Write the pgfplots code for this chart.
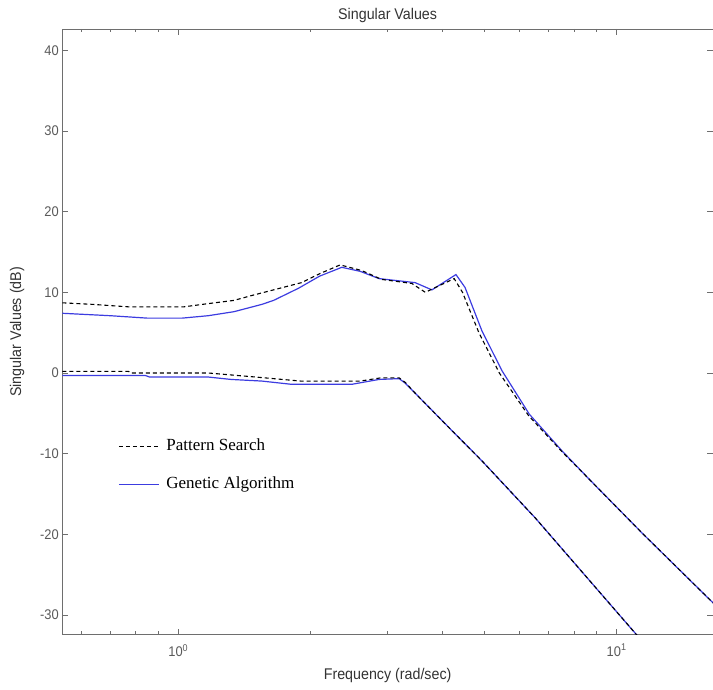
\documentclass[border=0pt]{standalone}
\usepackage{fontspec}
\setmainfont{Liberation Sans}[FakeStretch=0.92]
\newfontfamily\legfont{Liberation Serif}
\usepackage{pgfplots}
\usepackage{pgfplotstable}
\pgfplotsset{compat=1.18}
\definecolor{gablue}{HTML}{3C3CE0}
\definecolor{framegray}{HTML}{6E6E6E}
\definecolor{ticktxt}{HTML}{5A5A5A}
\definecolor{labeltxt}{HTML}{333333}

% frequency (rad/s) vs singular value (dB)
\pgfplotstableread{
f db
0.544 7.4
0.70 7.1
0.85 6.8
1.02 6.8
1.17 7.1
1.34 7.6
1.55 8.5
1.65 9.0
1.88 10.5
2.10 12.0
2.36 13.1
2.60 12.6
2.87 11.7
3.47 11.2
3.79 10.3
4.30 12.2
4.51 10.6
4.93 5.2
5.48 0.25
6.32 -5.1
7.52 -9.7
8.67 -13.2
11.46 -19.9
16.6 -28.5
}\gaup
\pgfplotstableread{
f db
0.544 -0.3
0.84 -0.3
0.86 -0.5
1.17 -0.5
1.32 -0.8
1.55 -1.0
1.81 -1.4
2.49 -1.4
2.87 -0.8
3.19 -0.7
3.30 -1.3
3.47 -2.5
4.15 -6.8
4.93 -10.9
6.53 -18.0
11.5 -33.4
}\galow
\pgfplotstableread{
f db
0.544 8.7
0.64 8.5
0.77 8.2
1.03 8.2
1.17 8.6
1.34 9.0
1.47 9.6
1.91 11.2
2.10 12.3
2.34 13.4
2.62 12.7
2.91 11.6
3.41 11.1
3.66 10.0
4.26 11.7
4.45 10.0
4.85 5.0
5.40 0.0
6.30 -5.3
7.52 -9.8
8.67 -13.2
11.46 -19.9
16.6 -28.5
}\psup
\pgfplotstableread{
f db
0.544 0.2
0.77 0.2
0.78 0.0
1.17 0.0
1.50 -0.5
1.90 -1.0
2.60 -1.0
2.90 -0.6
3.19 -0.6
3.30 -1.2
3.47 -2.5
4.15 -6.8
4.93 -10.9
6.53 -18.0
11.5 -33.4
}\pslow

\begin{document}
\begin{tikzpicture}
\begin{axis}[
  name=ax,
  scale only axis,
  width=650.7pt, height=605.7pt,
  xmode=log,
  xmin=0.5437, xmax=16.59,
  ymin=-32.44, ymax=42.64,
  xtick={1,10},
  xticklabels={10\textsuperscript{0},10\textsuperscript{1}},
  minor xtick={0.6,0.7,0.8,0.9,2,3,4,5,6,7,8,9},
  ytick={-30,-20,...,40},
  tick align=inside,
  major tick length=6pt,
  minor tick length=3.5pt,
  axis line style={framegray, line width=0.8pt},
  every tick/.style={framegray, line width=0.8pt},
  tick label style={font=\fontsize{14}{16}\selectfont, text=ticktxt},
  yticklabel style={/pgf/number format/assume math mode=true},
  xticklabel style={yshift=-6pt},
  title={Singular Values},
  title style={font=\fontsize{15.5}{18}\selectfont, text=labeltxt,
    at={(rel axis cs:0.5,1)}, anchor=south, yshift=-3pt},
  xlabel={Frequency (rad/sec)},
  xlabel style={font=\fontsize{15.5}{18}\selectfont, text=labeltxt,
    at={(rel axis cs:0.5,0)}, anchor=north, yshift=-30pt},
  ylabel={Singular Values (dB)},
  ylabel style={font=\fontsize{15.5}{18}\selectfont, text=labeltxt,
    at={(rel axis cs:-0.053,0.5)}, anchor=south, rotate=0},
  legend style={at={(rel axis cs:0.0856,0.327)}, anchor=north west,
    draw=none, fill=none, inner sep=0pt, row sep=18pt, column sep=5pt,
    font=\legfont\fontsize{17}{19}\selectfont,
    nodes={text height=12pt, text depth=4pt, inner sep=2pt}},
  legend cell align=left,
  legend image code/.code={\draw[#1] (0pt,0pt) -- (40pt,0pt);},
]
\addlegendimage{black, line width=1.1pt, dash pattern=on 4pt off 3pt}
\addlegendentry{Pattern Search}
\addlegendimage{gablue, line width=1.2pt}
\addlegendentry{Genetic Algorithm}

\addplot[gablue, line width=1.2pt, forget plot] table[x=f, y=db] {\gaup};
\addplot[gablue, line width=1.2pt, forget plot] table[x=f, y=db] {\galow};
\addplot[black, line width=1.1pt, dash pattern=on 4pt off 3pt, forget plot] table[x=f, y=db] {\psup};
\addplot[black, line width=1.1pt, dash pattern=on 4pt off 3pt, forget plot] table[x=f, y=db] {\pslow};
\end{axis}
\pgfresetboundingbox
\path ([xshift=-62.3pt,yshift=-54.3pt]ax.south west) rectangle ([yshift=29pt]ax.north east);
\end{tikzpicture}
\end{document}
